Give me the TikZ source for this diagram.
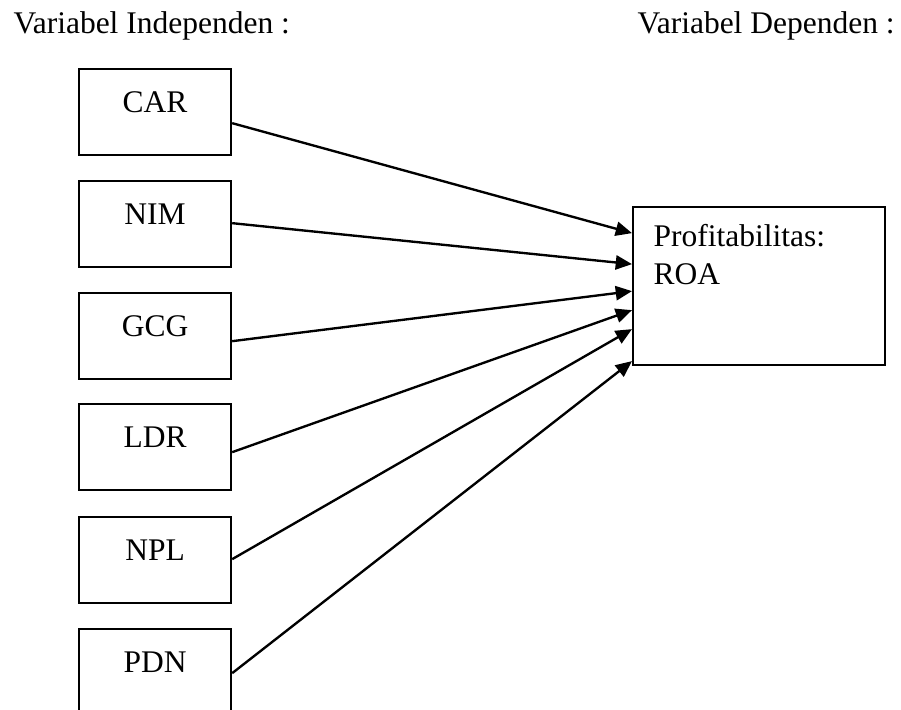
\documentclass[tikz,border=0pt]{standalone}
\usepackage{fontspec}
\setmainfont{Liberation Serif}
\usetikzlibrary{arrows.meta,calc}
\begin{document}
\begin{tikzpicture}[x=0.381pt,y=-0.381pt,
  every node/.style={font=\fontsize{12}{14.4}\selectfont},
  varbox/.style={draw, line width=0.85pt, anchor=north west, inner sep=0pt,
    minimum width=57.9pt, text height=16.4pt, text depth=16.4pt, align=center},
  depbox/.style={draw, line width=0.85pt, anchor=north west, inner sep=0pt,
    minimum width=96pt, minimum height=60.2pt},
  header/.style={anchor=base west, inner sep=0pt},
  arr/.style={line width=0.9pt, -{Triangle[length=6.2pt,width=5.4pt]}},
  ]
\useasboundingbox (0,0) rectangle (901,710);
\clip (0,0) rectangle (901,710);

\node[header] (hind) at (13,33) {Variabel Independen :};
\node[header] (hdep) at (637,33) {Variabel Dependen :};

\node[varbox] (car) at (78,68)  {CAR};
\node[varbox] (nim) at (78,180) {NIM};
\node[varbox] (gcg) at (78,292) {GCG};
\node[varbox] (ldr) at (78,403) {LDR};
\node[varbox] (npl) at (78,516) {NPL};
\node[varbox] (pdn) at (78,628) {PDN};

\node[depbox] (roa) at (632,206) {};
\node[anchor=north west, inner sep=0pt, align=left] (roatext) at (653,224) {Profitabilitas:\\ROA};

\draw[arr] ($(car.east)+(0,11)$) -- ($(roa.west)+(0,-53)$);
\draw[arr] ($(nim.east)+(0,-1)$) -- ($(roa.west)+(0,-22)$);
\draw[arr] ($(gcg.east)+(0,5)$)  -- ($(roa.west)+(0,5)$);
\draw[arr] ($(ldr.east)+(0,5)$)  -- ($(roa.west)+(0,24)$);
\draw[arr] ($(npl.east)+(0,-1)$) -- ($(roa.west)+(0,43)$);
\draw[arr] ($(pdn.east)+(0,1)$)  -- ($(roa.west)+(0,75)$);
\end{tikzpicture}
\end{document}
